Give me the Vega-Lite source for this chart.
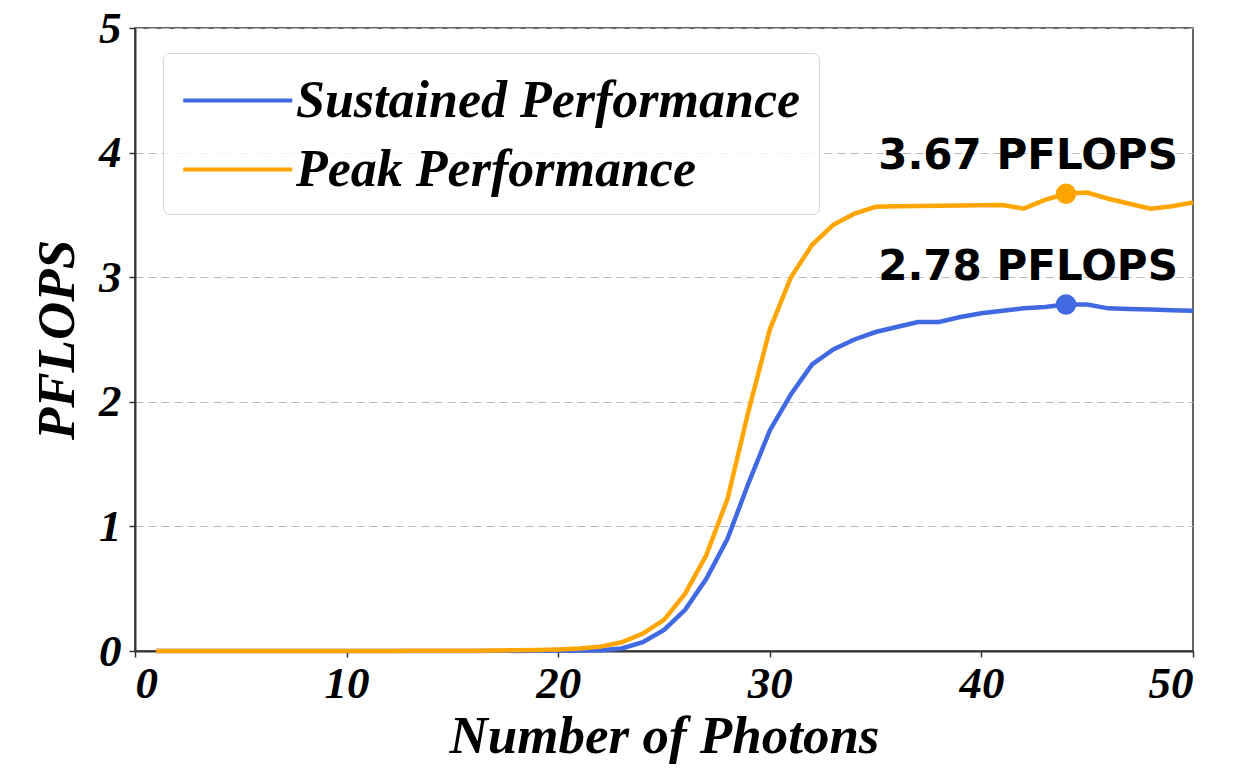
{
  "$schema": "https://vega.github.io/schema/vega-lite/v6.json",
  "width": 1058,
  "height": 623,
  "autosize": {"type": "none"},
  "padding": {"left": 135, "top": 28, "right": 41, "bottom": 126},
  "background": "white",
  "config": {
    "view": {"stroke": "#333333", "strokeWidth": 1.5},
    "axis": {
      "labelFont": "Liberation Serif",
      "labelFontStyle": "italic",
      "labelFontWeight": "bold",
      "labelFontSize": 45,
      "labelColor": "black",
      "titleFont": "Liberation Serif",
      "titleFontStyle": "italic",
      "titleFontWeight": "bold",
      "titleFontSize": 53,
      "titleColor": "black",
      "domainColor": "#333333",
      "domainWidth": 2,
      "tickColor": "#333333",
      "tickSize": 6,
      "tickWidth": 1.5
    },
    "legend": {
      "orient": "none",
      "legendX": 28,
      "legendY": 25,
      "symbolType": "M-1,0H3",
      "symbolSize": 2970,
      "symbolStrokeWidth": 4,
      "labelFont": "Liberation Serif",
      "labelFontStyle": "italic",
      "labelFontWeight": "bold",
      "labelFontSize": 52,
      "labelColor": "black",
      "labelOffset": 56,
      "labelLimit": 0,
      "padding": 18,
      "rowPadding": 13,
      "cornerRadius": 6,
      "strokeColor": "#d6d6d6",
      "fillColor": "rgba(255,255,255,0.8)"
    }
  },
  "datasets": {
    "perf": [
      {"photons": 1, "series": "Sustained Performance", "pflops": 0.0},
      {"photons": 2, "series": "Sustained Performance", "pflops": 0.0},
      {"photons": 3, "series": "Sustained Performance", "pflops": 0.0},
      {"photons": 4, "series": "Sustained Performance", "pflops": 0.0},
      {"photons": 5, "series": "Sustained Performance", "pflops": 0.0},
      {"photons": 6, "series": "Sustained Performance", "pflops": 0.0},
      {"photons": 7, "series": "Sustained Performance", "pflops": 0.0},
      {"photons": 8, "series": "Sustained Performance", "pflops": 0.0},
      {"photons": 9, "series": "Sustained Performance", "pflops": 0.0},
      {"photons": 10, "series": "Sustained Performance", "pflops": 0.0},
      {"photons": 11, "series": "Sustained Performance", "pflops": 0.0},
      {"photons": 12, "series": "Sustained Performance", "pflops": 0.0},
      {"photons": 13, "series": "Sustained Performance", "pflops": 0.0},
      {"photons": 14, "series": "Sustained Performance", "pflops": 0.0},
      {"photons": 15, "series": "Sustained Performance", "pflops": 0.0},
      {"photons": 16, "series": "Sustained Performance", "pflops": 0.0},
      {"photons": 17, "series": "Sustained Performance", "pflops": 0.001},
      {"photons": 18, "series": "Sustained Performance", "pflops": 0.001},
      {"photons": 19, "series": "Sustained Performance", "pflops": 0.002},
      {"photons": 20, "series": "Sustained Performance", "pflops": 0.003},
      {"photons": 21, "series": "Sustained Performance", "pflops": 0.004},
      {"photons": 22, "series": "Sustained Performance", "pflops": 0.007},
      {"photons": 23, "series": "Sustained Performance", "pflops": 0.02},
      {"photons": 24, "series": "Sustained Performance", "pflops": 0.07},
      {"photons": 25, "series": "Sustained Performance", "pflops": 0.17},
      {"photons": 26, "series": "Sustained Performance", "pflops": 0.33},
      {"photons": 27, "series": "Sustained Performance", "pflops": 0.58},
      {"photons": 28, "series": "Sustained Performance", "pflops": 0.9},
      {"photons": 29, "series": "Sustained Performance", "pflops": 1.35},
      {"photons": 30, "series": "Sustained Performance", "pflops": 1.77},
      {"photons": 31, "series": "Sustained Performance", "pflops": 2.06},
      {"photons": 32, "series": "Sustained Performance", "pflops": 2.3},
      {"photons": 33, "series": "Sustained Performance", "pflops": 2.42},
      {"photons": 34, "series": "Sustained Performance", "pflops": 2.5},
      {"photons": 35, "series": "Sustained Performance", "pflops": 2.56},
      {"photons": 36, "series": "Sustained Performance", "pflops": 2.6},
      {"photons": 37, "series": "Sustained Performance", "pflops": 2.64},
      {"photons": 38, "series": "Sustained Performance", "pflops": 2.64},
      {"photons": 39, "series": "Sustained Performance", "pflops": 2.68},
      {"photons": 40, "series": "Sustained Performance", "pflops": 2.71},
      {"photons": 41, "series": "Sustained Performance", "pflops": 2.73},
      {"photons": 42, "series": "Sustained Performance", "pflops": 2.75},
      {"photons": 43, "series": "Sustained Performance", "pflops": 2.76},
      {"photons": 44, "series": "Sustained Performance", "pflops": 2.78},
      {"photons": 45, "series": "Sustained Performance", "pflops": 2.78},
      {"photons": 46, "series": "Sustained Performance", "pflops": 2.75},
      {"photons": 47, "series": "Sustained Performance", "pflops": 2.745},
      {"photons": 48, "series": "Sustained Performance", "pflops": 2.74},
      {"photons": 49, "series": "Sustained Performance", "pflops": 2.735},
      {"photons": 50, "series": "Sustained Performance", "pflops": 2.73},
      {"photons": 1, "series": "Peak Performance", "pflops": 0.001},
      {"photons": 2, "series": "Peak Performance", "pflops": 0.001},
      {"photons": 3, "series": "Peak Performance", "pflops": 0.001},
      {"photons": 4, "series": "Peak Performance", "pflops": 0.001},
      {"photons": 5, "series": "Peak Performance", "pflops": 0.001},
      {"photons": 6, "series": "Peak Performance", "pflops": 0.001},
      {"photons": 7, "series": "Peak Performance", "pflops": 0.001},
      {"photons": 8, "series": "Peak Performance", "pflops": 0.001},
      {"photons": 9, "series": "Peak Performance", "pflops": 0.001},
      {"photons": 10, "series": "Peak Performance", "pflops": 0.001},
      {"photons": 11, "series": "Peak Performance", "pflops": 0.001},
      {"photons": 12, "series": "Peak Performance", "pflops": 0.001},
      {"photons": 13, "series": "Peak Performance", "pflops": 0.002},
      {"photons": 14, "series": "Peak Performance", "pflops": 0.002},
      {"photons": 15, "series": "Peak Performance", "pflops": 0.002},
      {"photons": 16, "series": "Peak Performance", "pflops": 0.003},
      {"photons": 17, "series": "Peak Performance", "pflops": 0.004},
      {"photons": 18, "series": "Peak Performance", "pflops": 0.006},
      {"photons": 19, "series": "Peak Performance", "pflops": 0.009},
      {"photons": 20, "series": "Peak Performance", "pflops": 0.013},
      {"photons": 21, "series": "Peak Performance", "pflops": 0.02},
      {"photons": 22, "series": "Peak Performance", "pflops": 0.035},
      {"photons": 23, "series": "Peak Performance", "pflops": 0.07},
      {"photons": 24, "series": "Peak Performance", "pflops": 0.14},
      {"photons": 25, "series": "Peak Performance", "pflops": 0.25},
      {"photons": 26, "series": "Peak Performance", "pflops": 0.46},
      {"photons": 27, "series": "Peak Performance", "pflops": 0.77},
      {"photons": 28, "series": "Peak Performance", "pflops": 1.22},
      {"photons": 29, "series": "Peak Performance", "pflops": 1.93},
      {"photons": 30, "series": "Peak Performance", "pflops": 2.58},
      {"photons": 31, "series": "Peak Performance", "pflops": 3.0},
      {"photons": 32, "series": "Peak Performance", "pflops": 3.26},
      {"photons": 33, "series": "Peak Performance", "pflops": 3.42},
      {"photons": 34, "series": "Peak Performance", "pflops": 3.51},
      {"photons": 35, "series": "Peak Performance", "pflops": 3.565},
      {"photons": 36, "series": "Peak Performance", "pflops": 3.57},
      {"photons": 37, "series": "Peak Performance", "pflops": 3.572},
      {"photons": 38, "series": "Peak Performance", "pflops": 3.574},
      {"photons": 39, "series": "Peak Performance", "pflops": 3.576},
      {"photons": 40, "series": "Peak Performance", "pflops": 3.578},
      {"photons": 41, "series": "Peak Performance", "pflops": 3.58},
      {"photons": 42, "series": "Peak Performance", "pflops": 3.55},
      {"photons": 43, "series": "Peak Performance", "pflops": 3.62},
      {"photons": 44, "series": "Peak Performance", "pflops": 3.67},
      {"photons": 45, "series": "Peak Performance", "pflops": 3.68},
      {"photons": 46, "series": "Peak Performance", "pflops": 3.63},
      {"photons": 47, "series": "Peak Performance", "pflops": 3.59},
      {"photons": 48, "series": "Peak Performance", "pflops": 3.55},
      {"photons": 49, "series": "Peak Performance", "pflops": 3.57},
      {"photons": 50, "series": "Peak Performance", "pflops": 3.6}
    ],
    "best": [
      {"photons": 44, "series": "Peak Performance", "pflops": 3.67, "label": "3.67 PFLOPS"},
      {"photons": 44, "series": "Sustained Performance", "pflops": 2.78, "label": "2.78 PFLOPS"}
    ]
  },
  "encoding": {
    "x": {
      "field": "photons",
      "type": "quantitative",
      "scale": {"domain": [0, 50], "nice": false, "zero": false},
      "axis": {
        "title": "Number of Photons",
        "values": [0, 10, 20, 30, 40, 50],
        "grid": false,
        "labelPadding": 4,
        "titlePadding": 4
      }
    },
    "y": {
      "field": "pflops",
      "type": "quantitative",
      "scale": {"domain": [0, 5], "nice": false},
      "axis": {
        "title": "PFLOPS",
        "values": [0, 1, 2, 3, 4, 5],
        "grid": true,
        "gridColor": "#b8b8b8",
        "gridDash": [8, 5],
        "gridWidth": 1.2,
        "labelPadding": 8,
        "titlePadding": 14
      }
    }
  },
  "layer": [
    {
      "data": {"name": "perf"},
      "mark": {"type": "line", "strokeWidth": 4.5},
      "encoding": {
        "color": {
          "field": "series",
          "type": "nominal",
          "scale": {
            "domain": ["Sustained Performance", "Peak Performance"],
            "range": ["#4169E1", "#FFA500"]
          },
          "legend": {"title": null}
        }
      }
    },
    {
      "data": {"name": "best"},
      "mark": {"type": "point", "filled": true, "size": 420, "opacity": 1},
      "encoding": {
        "fill": {
          "field": "series",
          "type": "nominal",
          "scale": {
            "domain": ["Sustained Performance", "Peak Performance"],
            "range": ["#4169E1", "#FFA500"]
          },
          "legend": null
        }
      }
    },
    {
      "data": {"name": "best"},
      "mark": {
        "type": "text",
        "font": "DejaVu Sans",
        "fontWeight": "bold",
        "fontSize": 42,
        "align": "center",
        "baseline": "alphabetic",
        "dx": -38,
        "dy": -25,
        "color": "black"
      },
      "encoding": {
        "text": {"field": "label", "type": "nominal"}
      }
    }
  ]
}
